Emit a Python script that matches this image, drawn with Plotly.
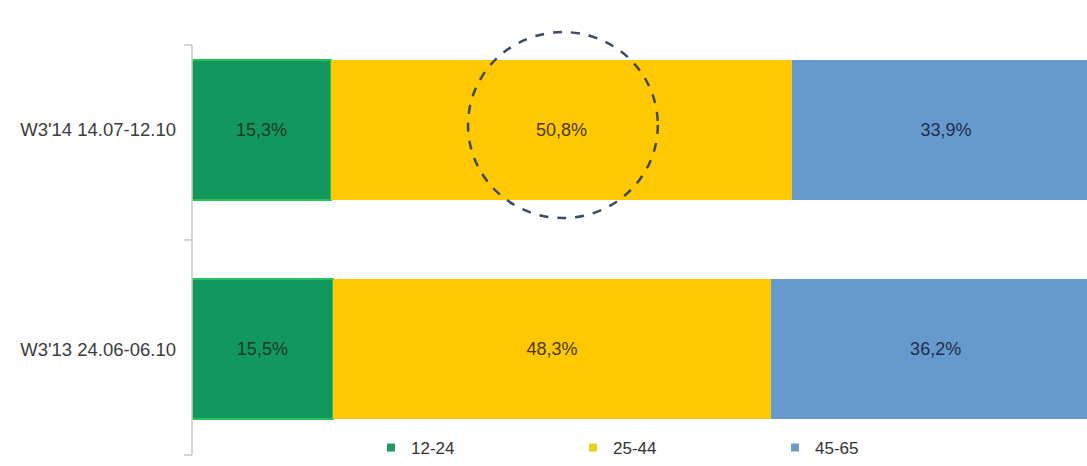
import plotly.graph_objects as go

categories = ["W3'13 24.06-06.10", "W3'14 14.07-12.10"]
series_names = ["12-24", "25-44", "45-65"]
v_12_24 = [15.5, 15.3]
v_25_44 = [48.3, 50.8]
v_45_65 = [36.2, 33.9]

colors = ["#12975f", "#ffc800", "#6699cc"]
line_colors = ["#24c45a", "#ffc800", "#6699cc"]
text_colors = ["#1d3a28", "#4a3a10", "#1f2d4d"]
legend_colors = ["#1f9a63", "#e6d21e", "#6f9ac4"]

FONT = "Liberation Sans, Arial"

fig = go.Figure()
for name, vals, c, lc, tc in zip(series_names, [v_12_24, v_25_44, v_45_65], colors, line_colors, text_colors):
    fig.add_trace(go.Bar(
        y=categories, x=vals, orientation="h", name=name, showlegend=False,
        marker=dict(color=c, line=dict(color=lc, width=2 if name == "12-24" else 0)),
        text=[f"{v:.1f}%".replace(".", ",") for v in vals],
        textposition="inside", insidetextanchor="middle",
        textfont=dict(family=FONT, size=18, color=tc),
        constraintext="none",
        width=0.64,
    ))

# legend entries with small square markers
for name, lc in zip(series_names, legend_colors):
    fig.add_trace(go.Scatter(
        x=[None], y=[None], mode="markers", name=name,
        marker=dict(symbol="square", size=8, color=lc),
    ))

# dashed circle highlight around 25-44 of W3'14
fig.add_shape(type="circle", xref="x", yref="y",
              x0=30.4, x1=51.3, y0=0.598, y1=1.447,
              line=dict(color="#3c4a63", width=2.5, dash="dash"))

# vertical axis line and ticks
fig.add_shape(type="line", xref="paper", yref="y", x0=0, x1=0, y0=-0.484, y1=1.388,
              line=dict(color="#c8c8c8", width=1.5))
for yy in [-0.484, 0.498, 1.388]:
    fig.add_shape(type="line", xref="paper", yref="y", x0=-0.009, x1=0, y0=yy, y1=yy,
                  line=dict(color="#c8c8c8", width=1.5))

fig.update_layout(
    barmode="stack",
    width=1087, height=466,
    margin=dict(l=192, r=0, t=20, b=0),
    paper_bgcolor="white", plot_bgcolor="white",
    xaxis=dict(range=[0, 98.57], visible=False, fixedrange=True),
    yaxis=dict(range=[-0.534, 1.502], showgrid=False, zeroline=False, showline=False,
               ticks="", ticklabelstandoff=15,
               tickfont=dict(family=FONT, size=18.5, color="#3c3c3c")),
    legend=dict(orientation="h", x=0.2, y=0.0, xanchor="left", yanchor="bottom",
                entrywidth=157, entrywidthmode="pixels",
                font=dict(family=FONT, size=17, color="#333333"),
                bgcolor="rgba(0,0,0,0)", traceorder="normal"),
    uniformtext=dict(mode=False),
)

fig.write_html("out.html")
